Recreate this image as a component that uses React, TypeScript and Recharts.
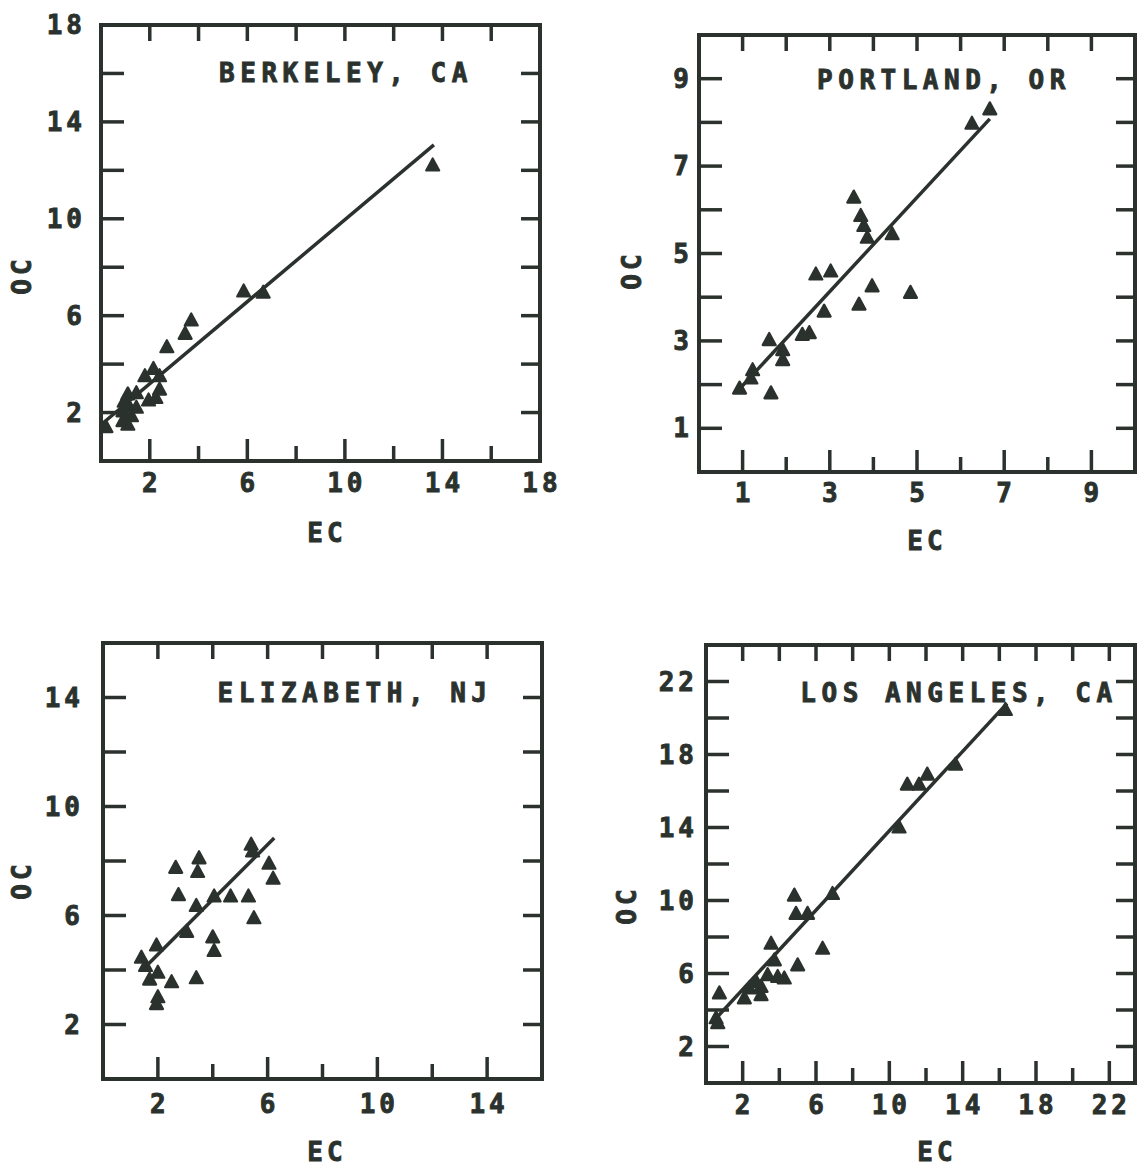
import React from 'react';
import { ScatterChart, Scatter, XAxis, YAxis, Label } from 'recharts';

const INK = '#2b322e';
const FONT = '"DejaVu Sans Mono", "Liberation Mono", monospace';

// ---------- Berkeley, CA ----------
const berkeleyEC = [13.6, 5.85, 6.65, 3.7, 3.45, 2.7, 2.15, 1.8, 2.4, 2.4, 2.25, 1.95, 1.45, 1.1, 0.95, 1.15, 1.45, 0.9, 1.25, 0.9, 1.1, 0.2];
const berkeleyOC = [12.2, 7.0, 6.95, 5.8, 5.25, 4.7, 3.8, 3.5, 3.5, 2.95, 2.6, 2.5, 2.8, 2.75, 2.45, 2.25, 2.2, 2.05, 1.85, 1.65, 1.5, 1.4];
const berkeleyFitEC = [0, 13.65];
const berkeleyFitOC = [1.5, 13.05];
const berkeleyTicks = [2, 4, 6, 8, 10, 12, 14, 16, 18];
const berkeleyLabels = [2, 6, 10, 14, 18];

// ---------- Portland, OR ----------
const portlandEC = [6.67, 6.26, 3.55, 3.71, 3.78, 3.86, 4.43, 2.68, 3.02, 3.97, 4.85, 3.67, 2.87, 2.37, 2.53, 1.61, 1.92, 1.92, 1.23, 1.19, 0.93, 1.65];
const portlandOC = [8.3, 7.97, 6.28, 5.86, 5.63, 5.36, 5.44, 4.52, 4.59, 4.25, 4.1, 3.83, 3.67, 3.14, 3.18, 3.02, 2.79, 2.56, 2.33, 2.14, 1.91, 1.8];
const portlandFitEC = [0.9, 6.67];
const portlandFitOC = [1.87, 8.08];
const portlandTicks = [1, 2, 3, 4, 5, 6, 7, 8, 9];
const portlandLabels = [1, 3, 5, 7, 9];

// ---------- Elizabeth, NJ ----------
const elizabethEC = [5.4, 5.45, 6.05, 6.2, 2.65, 3.5, 3.45, 2.75, 4.05, 4.65, 5.3, 3.4, 5.5, 3.05, 4.0, 4.05, 1.95, 1.4, 1.55, 2.0, 1.7, 2.5, 3.4, 2.0, 1.95];
const elizabethOC = [8.6, 8.35, 7.9, 7.35, 7.75, 8.1, 7.6, 6.75, 6.7, 6.7, 6.7, 6.35, 5.9, 5.4, 5.2, 4.7, 4.9, 4.45, 4.15, 3.9, 3.65, 3.55, 3.7, 3.0, 2.75];
const elizabethFitEC = [1.57, 6.24];
const elizabethFitOC = [4.14, 8.84];
const elizabethTicks = [2, 4, 6, 8, 10, 12, 14];
const elizabethLabels = [2, 6, 10, 14];

// ---------- Los Angeles, CA ----------
const laEC = [16.33, 13.61, 12.07, 10.98, 11.62, 10.53, 6.9, 4.82, 4.91, 5.54, 6.36, 3.55, 3.73, 5.0, 3.36, 4.27, 3.91, 2.73, 3.0, 2.37, 2.09, 3.0, 0.73, 0.55, 0.64];
const laOC = [20.44, 17.44, 16.9, 16.35, 16.35, 14.0, 10.36, 10.27, 9.27, 9.27, 7.36, 7.63, 6.72, 6.45, 5.91, 5.73, 5.81, 5.54, 5.27, 5.18, 4.64, 4.82, 4.91, 3.55, 3.28];
const laFitEC = [0.46, 16.42];
const laFitOC = [3.45, 20.8];
const laTicks = [2, 4, 6, 8, 10, 12, 14, 16, 18, 20, 22];
const laLabels = [2, 6, 10, 14, 18, 22];

const toPts = (xs: number[], ys: number[]) => xs.map((x, i) => ({ ec: x, oc: ys[i] }));

const ML = 110;
const MT = 60;
const MR = 40;
const MB = 100;

type Panel = {
  title: string;
  ec: number[];
  oc: number[];
  fitEC: number[];
  fitOC: number[];
  xMax: number;
  yMax: number;
  ticks: number[];
  labels: number[];
  px: number; py: number; w: number; h: number;
  yGap: number; xDy: number;
  ecDx: number; ecDy: number;
  ocDx: number; ocDy: number;
  tDx: number; tDy: number;
};

const panels: Panel[] = [
  { title: 'BERKELEY, CA', ec: berkeleyEC, oc: berkeleyOC, fitEC: berkeleyFitEC, fitOC: berkeleyFitOC, xMax: 18, yMax: 18, ticks: berkeleyTicks, labels: berkeleyLabels,
    px: 101, py: 25, w: 439, h: 436, yGap: 19, xDy: 22, ecDx: 226, ecDy: 72, ocDx: -79, ocDy: 250, tDx: 245, tDy: 48 },
  { title: 'PORTLAND, OR', ec: portlandEC, oc: portlandOC, fitEC: portlandFitEC, fitOC: portlandFitOC, xMax: 10, yMax: 10, ticks: portlandTicks, labels: portlandLabels,
    px: 699, py: 35, w: 436, h: 437, yGap: 10, xDy: 21, ecDx: 228, ecDy: 69, ocDx: -67, ocDy: 235, tDx: 245, tDy: 45 },
  { title: 'ELIZABETH, NJ', ec: elizabethEC, oc: elizabethOC, fitEC: elizabethFitEC, fitOC: elizabethFitOC, xMax: 16, yMax: 16, ticks: elizabethTicks, labels: elizabethLabels,
    px: 103, py: 643, w: 439, h: 436, yGap: 23, xDy: 25, ecDx: 224, ecDy: 73, ocDx: -81, ocDy: 237, tDx: 252, tDy: 50 },
  { title: 'LOS ANGELES, CA', ec: laEC, oc: laOC, fitEC: laFitEC, fitOC: laFitOC, xMax: 23.4, yMax: 24, ticks: laTicks, labels: laLabels,
    px: 706, py: 645, w: 429, h: 438, yGap: 12, xDy: 22, ecDx: 231, ecDy: 69, ocDx: -79, ocDy: 260, tDx: 253, tDy: 48 },
];

const textStyle = {
  fill: INK,
  stroke: INK,
  strokeWidth: 0.9,
  fontFamily: FONT,
  fontWeight: 700,
  fontSize: 26,
} as const;

const Tri = (props: any) => {
  const { cx, cy } = props;
  if (cx == null || cy == null) return <g />;
  return (
    <path
      d={`M${cx},${cy - 7} L${cx + 6.5},${cy + 5} L${cx - 6.5},${cy + 5} Z`}
      fill={INK}
      stroke={INK}
      strokeWidth={2.2}
      strokeLinejoin="round"
    />
  );
};

const NoShape = () => <g />;

const TW = 3.5;

const makeBottomTick = (p: Panel) => (props: any) => {
  const { x, y, payload } = props;
  const v = payload.value;
  const lab = p.labels.includes(v);
  return (
    <g>
      <line x1={x} x2={x} y1={y} y2={y - (lab ? 22 : 15)} stroke={INK} strokeWidth={TW} />
      {lab && (
        <text x={x + 2} y={y + p.xDy} textAnchor="middle" dominantBaseline="central" style={{ ...textStyle, letterSpacing: 4 }}>
          {v}
        </text>
      )}
    </g>
  );
};

const makeTopTick = () => (props: any) => {
  const { x, y } = props;
  return <line x1={x} x2={x} y1={y} y2={y + 16} stroke={INK} strokeWidth={TW} />;
};

const makeLeftTick = (p: Panel) => (props: any) => {
  const { x, y, payload } = props;
  const v = payload.value;
  const lab = p.labels.includes(v);
  return (
    <g>
      <line x1={x} x2={x + 23} y1={y} y2={y} stroke={INK} strokeWidth={TW} />
      {lab && (
        <text x={x - p.yGap + 4} y={y} textAnchor="end" dominantBaseline="central" style={{ ...textStyle, letterSpacing: 4 }}>
          {v}
        </text>
      )}
    </g>
  );
};

const makeRightTick = () => (props: any) => {
  const { x, y } = props;
  return <line x1={x} x2={x - 19} y1={y} y2={y} stroke={INK} strokeWidth={TW} />;
};

const PanelChart = ({ p }: { p: Panel }) => {
  const pts = toPts(p.ec, p.oc);
  const fit = toPts(p.fitEC, p.fitOC);
  const W = p.w + ML + MR;
  const H = p.h + MT + MB;
  const axisLine = { stroke: INK, strokeWidth: 4, strokeLinecap: 'square' as const };
  const texts = () => (
    <g>
      <text x={ML + p.tDx} y={MT + p.tDy} textAnchor="middle" dominantBaseline="central" style={{ ...textStyle, letterSpacing: 5.5 }}>
        {p.title}
      </text>
      <text x={ML + p.ecDx} y={MT + p.h + p.ecDy} textAnchor="middle" dominantBaseline="central" style={{ ...textStyle, letterSpacing: 4 }}>
        EC
      </text>
      <text
        x={ML + p.ocDx}
        y={MT + p.ocDy}
        textAnchor="middle"
        dominantBaseline="central"
        transform={`rotate(-90 ${ML + p.ocDx} ${MT + p.ocDy})`}
        style={{ ...textStyle, letterSpacing: 4 }}
      >
        OC
      </text>
    </g>
  );
  return (
    <div style={{ position: 'absolute', left: p.px - ML, top: p.py - MT, width: W, height: H }}>
      <ScatterChart width={W} height={H} margin={{ left: ML - 1, top: MT - 1, right: MR - 1, bottom: MB - 1 }}>
        <XAxis
          xAxisId="b"
          type="number"
          dataKey="ec"
          orientation="bottom"
          domain={[0, p.xMax]}
          allowDataOverflow
          ticks={p.ticks.filter((t) => t <= p.xMax)}
          interval={0}
          height={1}
          tickSize={0}
          tickMargin={0}
          tickLine={false}
          axisLine={axisLine}
          tick={makeBottomTick(p)}
        >
          <Label content={texts} />
        </XAxis>
        <XAxis
          xAxisId="t"
          type="number"
          dataKey="ec"
          orientation="top"
          domain={[0, p.xMax]}
          allowDataOverflow
          ticks={p.ticks.filter((t) => t < p.xMax)}
          interval={0}
          height={1}
          tickSize={0}
          tickMargin={0}
          tickLine={false}
          axisLine={axisLine}
          tick={makeTopTick()}
        />
        <YAxis
          yAxisId="l"
          type="number"
          dataKey="oc"
          orientation="left"
          domain={[0, p.yMax]}
          allowDataOverflow
          ticks={p.ticks}
          interval={0}
          width={1}
          tickSize={0}
          tickMargin={0}
          tickLine={false}
          axisLine={axisLine}
          tick={makeLeftTick(p)}
        />
        <YAxis
          yAxisId="r"
          type="number"
          dataKey="oc"
          orientation="right"
          domain={[0, p.yMax]}
          allowDataOverflow
          ticks={p.ticks.filter((t) => t < p.yMax)}
          interval={0}
          width={1}
          tickSize={0}
          tickMargin={0}
          tickLine={false}
          axisLine={axisLine}
          tick={makeRightTick()}
        />
        <Scatter
          xAxisId="t"
          yAxisId="r"
          data={fit}
          line={{ stroke: INK, strokeWidth: 3.5 }}
          shape={NoShape}
          isAnimationActive={false}
        />
        <Scatter xAxisId="b" yAxisId="l" data={pts} fill={INK} shape={Tri} isAnimationActive={false} />
      </ScatterChart>
    </div>
  );
};

export default function App() {
  return (
    <>
      <style>{'html, body { overflow: hidden; }'}</style>
      <div style={{ position: 'absolute', left: 0, top: 0, width: 1138, height: 1167, overflow: 'hidden', background: '#fff' }}>
        {panels.map((p) => (
          <PanelChart key={p.title} p={p} />
        ))}
      </div>
    </>
  );
}
